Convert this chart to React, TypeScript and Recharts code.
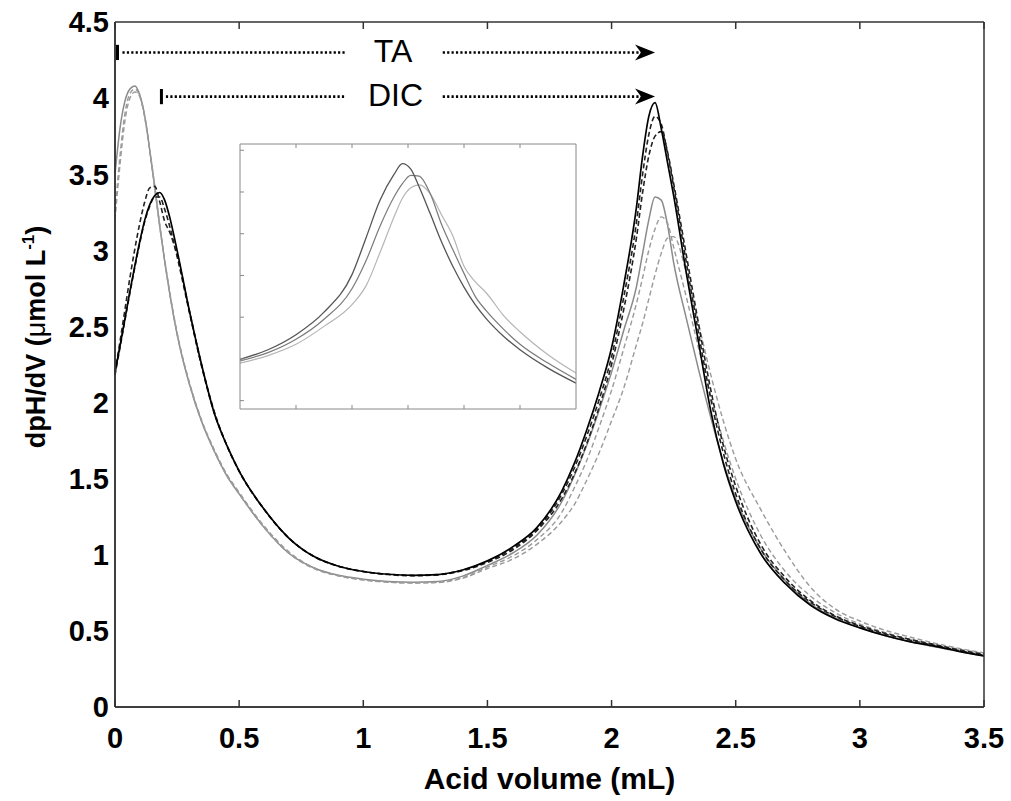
import React from 'react';
import { LineChart, Line, XAxis, YAxis, ReferenceLine, ReferenceDot } from 'recharts';

// acid added (mL)
const acidVolume = [
  0, 0.02, 0.04, 0.06, 0.08, 0.1, 0.12, 0.14, 0.16, 0.18,
  0.2, 0.22, 0.25, 0.3, 0.35, 0.4, 0.45, 0.5,
  0.6, 0.7, 0.8, 0.9, 1.0, 1.1, 1.2, 1.3, 1.4, 1.5,
  1.6, 1.7, 1.8, 1.85, 1.9, 1.95, 2.0, 2.05,
  2.1, 2.125, 2.15, 2.175, 2.2, 2.225, 2.25, 2.3,
  2.35, 2.4, 2.45, 2.5, 2.6, 2.7, 2.8, 2.9,
  3.0, 3.1, 3.2, 3.3, 3.4, 3.5,
];

const blackSolid = [
  2.2, 2.37, 2.55, 2.73, 2.9, 3.06, 3.2, 3.3, 3.36, 3.38,
  3.33, 3.22, 3.0, 2.6, 2.24, 1.93, 1.72, 1.55,
  1.3, 1.11, 0.99, 0.925, 0.89, 0.872, 0.865, 0.87, 0.9, 0.96,
  1.05, 1.18, 1.42, 1.6, 1.82, 2.07, 2.36, 2.78,
  3.28, 3.62, 3.88, 3.97, 3.8, 3.58, 3.36, 2.86,
  2.4, 1.94, 1.6, 1.35, 1.01, 0.81, 0.67, 0.58,
  0.52, 0.47, 0.43, 0.4, 0.365, 0.335,
];

const blackDashedA = [
  2.2, 2.4, 2.61, 2.82, 3.01, 3.18, 3.32, 3.41, 3.42, 3.32,
  3.19, 3.12, 2.97, 2.6, 2.24, 1.94, 1.72, 1.55,
  1.3, 1.11, 0.99, 0.925, 0.89, 0.872, 0.865, 0.87, 0.9, 0.955,
  1.04, 1.17, 1.4, 1.57, 1.78, 2.02, 2.3, 2.7,
  3.18, 3.5, 3.76, 3.88, 3.83, 3.64, 3.42, 2.93,
  2.46, 2.02, 1.67, 1.4, 1.04, 0.83, 0.69, 0.595,
  0.53, 0.48, 0.44, 0.405, 0.37, 0.34,
];

const blackDashedB = [
  2.18, 2.36, 2.54, 2.72, 2.89, 3.05, 3.19, 3.29, 3.35, 3.35,
  3.27, 3.16, 2.96, 2.59, 2.23, 1.93, 1.72, 1.55,
  1.3, 1.11, 0.99, 0.925, 0.89, 0.87, 0.862, 0.868, 0.895, 0.95,
  1.03, 1.16, 1.37, 1.53, 1.73, 1.97, 2.25, 2.62,
  3.08, 3.38, 3.62, 3.75, 3.78, 3.65, 3.44, 2.98,
  2.52, 2.08, 1.72, 1.45, 1.07, 0.85, 0.7, 0.6,
  0.535, 0.485, 0.445, 0.41, 0.375, 0.345,
];

const graySolid = [
  3.5, 3.8, 3.98, 4.06, 4.08, 4.02, 3.88, 3.66, 3.42, 3.16,
  2.93, 2.72, 2.45, 2.12, 1.87, 1.68, 1.52, 1.4,
  1.18, 1.01, 0.915, 0.865, 0.84, 0.825, 0.82, 0.825, 0.86, 0.93,
  1.01, 1.13, 1.35, 1.52, 1.72, 1.95, 2.2, 2.48,
  2.76, 2.98, 3.2, 3.35, 3.33, 3.17, 2.92, 2.56,
  2.22, 1.9, 1.61, 1.37, 1.04, 0.83, 0.68, 0.585,
  0.52, 0.47, 0.43, 0.395, 0.365, 0.335,
];

const grayDashedA = [
  3.25, 3.62, 3.9, 4.03, 4.06, 4.01, 3.87, 3.65, 3.41, 3.16,
  2.93, 2.72, 2.45, 2.12, 1.87, 1.68, 1.52, 1.4,
  1.18, 1.01, 0.91, 0.862, 0.835, 0.82, 0.815, 0.82, 0.85, 0.92,
  0.99, 1.1, 1.28, 1.44, 1.62, 1.84, 2.08, 2.36,
  2.65, 2.82, 3.0, 3.14, 3.22, 3.18, 3.02, 2.7,
  2.36, 2.04, 1.75, 1.5, 1.13, 0.89, 0.73, 0.62,
  0.545, 0.49, 0.445, 0.41, 0.38, 0.35,
];

const grayDashedB = [
  3.2, 3.56, 3.85, 4.0, 4.04, 4.01, 3.88, 3.66, 3.42, 3.17,
  2.94, 2.73, 2.46, 2.13, 1.88, 1.69, 1.53, 1.41,
  1.19, 1.02, 0.915, 0.862, 0.835, 0.82, 0.815, 0.818, 0.845, 0.91,
  0.97, 1.07, 1.22, 1.33, 1.49, 1.67, 1.88, 2.1,
  2.38, 2.52, 2.68, 2.84, 2.98, 3.08, 3.09, 2.86,
  2.52, 2.18, 1.88, 1.63, 1.3, 1.02, 0.79, 0.645,
  0.565, 0.505, 0.46, 0.42, 0.385, 0.355,
];

const xTicks = [0, 0.5, 1, 1.5, 2, 2.5, 3, 3.5];
const yTicks = [0, 0.5, 1, 1.5, 2, 2.5, 3, 3.5, 4, 4.5];

// inset (unlabelled zoom of a peak)
const insetX = [0, 0.5, 1, 1.5, 2, 2.25, 2.5, 2.75, 2.9, 3.05, 3.2, 3.4, 3.6, 3.8, 4.0, 4.2, 4.4, 4.7, 5.0, 5.5, 6.0];
const insetDark = [1.99, 2.22, 2.58, 3.12, 4.02, 4.9, 5.8, 6.42, 6.68, 6.55, 6.12, 5.47, 4.8, 4.22, 3.72, 3.3, 2.96, 2.55, 2.22, 1.78, 1.42];
const insetMid = [1.95, 2.15, 2.47, 2.95, 3.68, 4.35, 5.18, 5.88, 6.2, 6.4, 6.38, 5.95, 5.22, 4.62, 4.05, 3.5, 3.15, 2.72, 2.35, 1.9, 1.51];
const insetLight = [1.9, 2.08, 2.35, 2.78, 3.3, 3.75, 4.55, 5.4, 5.85, 6.1, 6.17, 5.95, 5.45, 4.95, 4.22, 3.85, 3.58, 3.05, 2.65, 2.1, 1.66];
const insetXTicks = [1, 2, 3, 4, 5];
const insetYTicks = [1, 2, 3, 4, 5, 6, 7];

const mainData = acidVolume.map((v, i) => ({
  v,
  s1: blackSolid[i],
  s2: blackDashedA[i],
  s3: blackDashedB[i],
  s4: graySolid[i],
  s5: grayDashedA[i],
  s6: grayDashedB[i],
}));

const insetData = insetX.map((x, i) => ({ x, a: insetDark[i], b: insetMid[i], c: insetLight[i] }));

const series = [
  { key: 's4', color: '#8a8a8a', dash: undefined, width: 1.5 },
  { key: 's5', color: '#9a9a9a', dash: '5 3', width: 1.4 },
  { key: 's6', color: '#9a9a9a', dash: '5 3', width: 1.4 },
  { key: 's3', color: '#222', dash: '5 3', width: 1.6 },
  { key: 's2', color: '#222', dash: '5 3', width: 1.6 },
  { key: 's1', color: '#000', dash: undefined, width: 1.7 },
];

const FONT = '"Liberation Sans", Arial, Helvetica, sans-serif';
const tickStyle = { fill: '#000', fontSize: 29, fontWeight: 700, fontFamily: FONT };
// tick marks only, no text
const noLabel = () => <g />;

const ArrowLine = (props: any) => {
  const { x1, y1, x2, y2 } = props;
  return (
    <g>
      <line x1={x1} y1={y1} x2={x2 - 14} y2={y2} stroke="#000" strokeWidth={2.6} strokeDasharray="2.2 2.2" />
      <path d={`M${x2},${y2} L${x2 - 20},${y2 - 8} L${x2 - 14},${y2} L${x2 - 20},${y2 + 8} Z`} fill="#000" />
    </g>
  );
};

const YTitle = () => (
  <text
    x={45}
    y={337}
    transform="rotate(-90 45 337)"
    textAnchor="middle"
    fontFamily={FONT}
    fontSize={27}
    fontWeight={700}
    fill="#000"
  >
    dpH/dV (<tspan fontWeight={400}>μ</tspan>mol L
    <tspan dy={-11} fontSize={17}>-1</tspan>
    <tspan dy={11}>)</tspan>
  </text>
);

export default function App() {
  return (
    <div style={{ position: 'absolute', left: 0, top: 0, width: 1011, height: 801, background: '#fff' }}>
      <LineChart width={1011} height={801} data={mainData} margin={{ top: 22, right: 27, bottom: 44, left: 55 }}>
        <XAxis
          dataKey="v"
          type="number"
          domain={[0, 3.5]}
          ticks={xTicks}
          interval={0}
          stroke="#333"
          strokeWidth={1.5}
          tickLine={false}
          tickSize={0}
          tickMargin={20}
          tick={tickStyle}
          height={50}
          label={{ value: 'Acid volume (mL)', position: 'bottom', offset: 11, fontSize: 30, fontWeight: 700, fill: '#000', fontFamily: FONT }}
        />
        <YAxis
          type="number"
          domain={[0, 4.5]}
          ticks={yTicks}
          interval={0}
          stroke="#333"
          strokeWidth={1.5}
          tickLine={false}
          tickSize={0}
          tickMargin={6}
          tick={tickStyle}
          width={60}
          label={{ content: () => <YTitle /> }}
        />
        {/* inward tick marks on all four sides */}
        <XAxis xAxisId="bt" dataKey="v" type="number" domain={[0, 3.5]} ticks={xTicks} interval={0} mirror stroke="#333" strokeWidth={1.5} tickSize={7} tick={noLabel} height={1} />
        <XAxis xAxisId="top" orientation="top" dataKey="v" type="number" domain={[0, 3.5]} ticks={xTicks} interval={0} mirror stroke="#333" strokeWidth={1.5} tickSize={7} tick={noLabel} height={1} />
        <YAxis yAxisId="lt" type="number" domain={[0, 4.5]} ticks={yTicks} interval={0} mirror stroke="#333" strokeWidth={1.5} tickSize={7} tick={noLabel} width={1} />
        <YAxis yAxisId="right" orientation="right" type="number" domain={[0, 4.5]} ticks={yTicks} interval={0} mirror stroke="#333" strokeWidth={1.5} tickSize={7} tick={noLabel} width={1} />

        {series.map((s) => (
          <Line
            key={s.key}
            dataKey={s.key}
            type="monotone"
            stroke={s.color}
            strokeWidth={s.width}
            strokeDasharray={s.dash}
            dot={false}
            isAnimationActive={false}
          />
        ))}

        {/* TA span */}
        <ReferenceLine segment={[{ x: 0.01, y: 4.25 }, { x: 0.01, y: 4.35 }]} stroke="#000" strokeWidth={3} ifOverflow="visible" />
        <ReferenceLine segment={[{ x: 0.03, y: 4.3 }, { x: 0.93, y: 4.3 }]} stroke="#000" strokeWidth={2.6} strokeDasharray="2.2 2.2" />
        <ReferenceLine segment={[{ x: 1.32, y: 4.3 }, { x: 2.175, y: 4.3 }]} shape={ArrowLine} />
        <ReferenceDot x={1.12} y={4.31} r={0} fill="none" stroke="none" label={{ value: 'TA', position: 'center', fontSize: 32, fill: '#000', fontFamily: FONT }} />

        {/* DIC span */}
        <ReferenceLine segment={[{ x: 0.187, y: 3.96 }, { x: 0.187, y: 4.06 }]} stroke="#000" strokeWidth={3} />
        <ReferenceLine segment={[{ x: 0.205, y: 4.01 }, { x: 0.93, y: 4.01 }]} stroke="#000" strokeWidth={2.6} strokeDasharray="2.2 2.2" />
        <ReferenceLine segment={[{ x: 1.32, y: 4.01 }, { x: 2.175, y: 4.01 }]} shape={ArrowLine} />
        <ReferenceDot x={1.13} y={4.02} r={0} fill="none" stroke="none" label={{ value: 'DIC', position: 'center', fontSize: 32, fill: '#000', fontFamily: FONT }} />
      </LineChart>

      <div style={{ position: 'absolute', left: 239, top: 143 }}>
        <LineChart width={338} height={267} data={insetData} margin={{ top: 1, right: 1, bottom: 1, left: 1 }}>
          <XAxis dataKey="x" type="number" domain={[0, 6]} ticks={insetXTicks} interval={0} mirror stroke="#888" tickSize={4} tick={noLabel} height={1} />
          <XAxis xAxisId="top" orientation="top" dataKey="x" type="number" domain={[0, 6]} ticks={insetXTicks} interval={0} mirror stroke="#888" tickSize={4} tick={noLabel} height={1} />
          <YAxis type="number" domain={[0.8, 7.15]} ticks={insetYTicks} interval={0} mirror stroke="#888" tickSize={4} tick={noLabel} width={1} />
          <YAxis yAxisId="right" orientation="right" type="number" domain={[0.8, 7.15]} ticks={insetYTicks} interval={0} mirror stroke="#888" tickSize={4} tick={noLabel} width={1} />
          <Line dataKey="c" type="monotone" stroke="#b5b5b5" strokeWidth={1.2} dot={false} isAnimationActive={false} />
          <Line dataKey="b" type="monotone" stroke="#7a7a7a" strokeWidth={1.2} dot={false} isAnimationActive={false} />
          <Line dataKey="a" type="monotone" stroke="#555" strokeWidth={1.3} dot={false} isAnimationActive={false} />
        </LineChart>
      </div>
    </div>
  );
}
